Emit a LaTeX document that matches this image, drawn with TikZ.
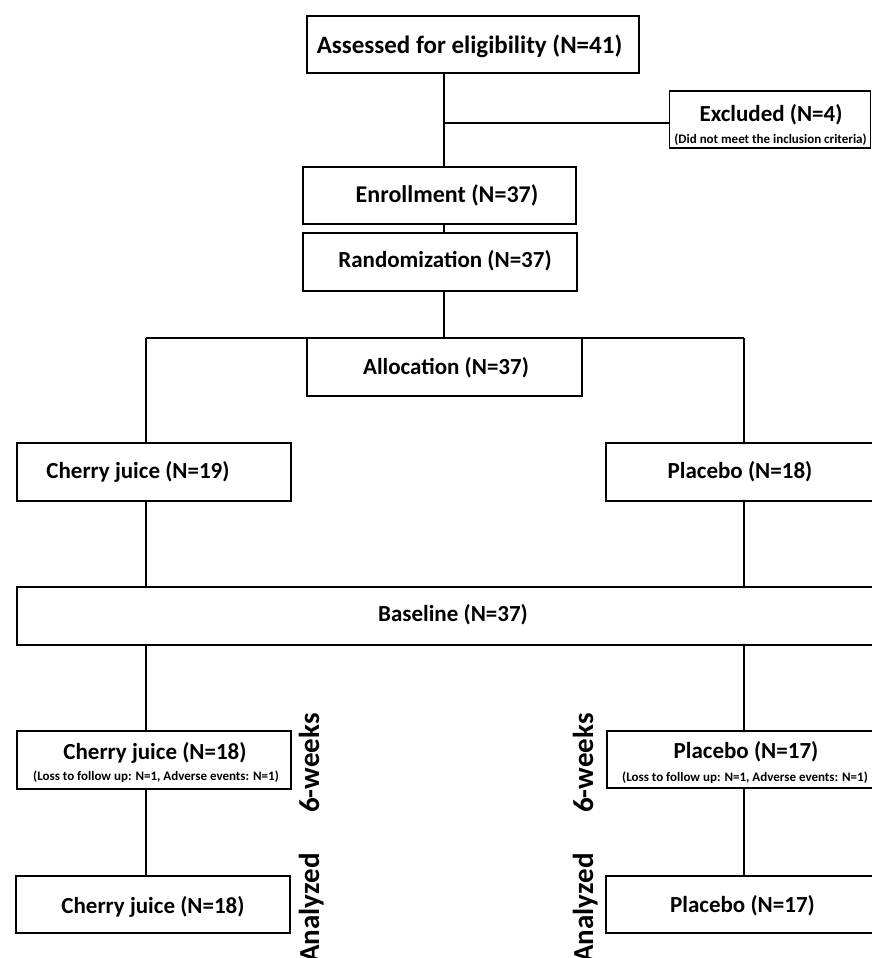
\documentclass[tikz,border=0pt]{standalone}
\usepackage{fontspec}
\setmainfont{Carlito}
\begin{document}
\begin{tikzpicture}[x=1pt,y=-1pt,
  box/.style={draw, line width=1.2pt, inner sep=0pt},
  conn/.style={line width=1.1pt},
  ttl/.style={anchor=base, inner sep=0pt, font=\fontsize{23}{27}\selectfont\bfseries},
  bigttl/.style={anchor=base, inner sep=0pt, font=\fontsize{25}{29}\selectfont\bfseries},
  subt/.style={anchor=base, inner sep=0pt, font=\fontsize{13}{15}\selectfont\bfseries},
  side/.style={anchor=base, rotate=90, inner sep=0pt, font=\fontsize{29}{33}\selectfont\bfseries}]
\useasboundingbox (0,0) rectangle (871,958);

% boxes
\node[box, minimum width=332pt, minimum height=57pt] (ass) at (473,44.5) {};
\node[box, minimum width=201pt, minimum height=57pt] (exc) at (770,119.5) {};
\node[box, minimum width=273pt, minimum height=57pt] (enr) at (439.5,195.5) {};
\node[box, minimum width=274pt, minimum height=58pt] (rnd) at (440,262) {};
\node[box, minimum width=275pt, minimum height=58pt] (alloc) at (444.5,367) {};
\node[box, minimum width=274pt, minimum height=58pt] (cja) at (154,472) {};
\node[box, minimum width=268pt, minimum height=58pt] (pla) at (740,472) {};
\node[box, minimum width=857pt, minimum height=58pt] (base) at (445.5,616) {};
\node[box, minimum width=274pt, minimum height=58pt] (cjb) at (154,760) {};
\node[box, minimum width=267pt, minimum height=57pt] (plb) at (740.5,759.5) {};
\node[box, minimum width=274pt, minimum height=57pt] (cjc) at (153,904.5) {};
\node[box, minimum width=268pt, minimum height=57pt] (plc) at (740,904.5) {};

% texts
\node[bigttl] (tass) at (469.5,53) {Assessed for eligibility (N=41)};
\node[ttl] (texc) at (771,121) {Excluded (N=4)};
\node[subt] (sexc) at (770.5,143) {(Did not meet the inclusion criteria)};
\node[ttl, font=\fontsize{24}{28}\selectfont\bfseries] (tenr) at (447,202) {Enrollment (N=37)};
\node[ttl] (trnd) at (445,267) {Randomization (N=37)};
\node[ttl] (talloc) at (446,374) {Allocation (N=37)};
\node[ttl] (tcja) at (138,478) {Cherry juice (N=19)};
\node[ttl] (tpla) at (740,478) {Placebo (N=18)};
\node[ttl] (tbase) at (453,621) {Baseline (N=37)};
\node[ttl] (tcjb) at (155,759) {Cherry juice (N=18)};
\node[subt] (scjb) at (156,780) {(Loss to follow up: N=1, Adverse events: N=1)};
\node[ttl] (tplb) at (746,758) {Placebo (N=17)};
\node[subt] (splb) at (745,781) {(Loss to follow up: N=1, Adverse events: N=1)};
\node[ttl] (tcjc) at (153,913) {Cherry juice (N=18)};
\node[ttl] (tplc) at (742.5,912) {Placebo (N=17)};

% side labels
\node[side] (wkl) at (319,763) {6-weeks};
\node[side] (wkr) at (593,763) {6-weeks};
\node[side] (anl) at (319,908) {Analyzed};
\node[side] (anr) at (593,908) {Analyzed};

% connectors
\coordinate (j1) at (444,123);
\coordinate (L) at (146,338);
\coordinate (R) at (744,338);
\draw[conn] (j1 |- ass.south) -- (j1 |- enr.north);
\draw[conn] (j1) -- (j1 -| exc.west);
\draw[conn] (j1 |- enr.south) -- (j1 |- rnd.north);
\draw[conn] (j1 |- rnd.south) -- (j1 |- alloc.north);
\draw[conn] (L) -- (R);
\draw[conn] (L) -- (L |- cja.north);
\draw[conn] (R) -- (R |- pla.north);
\draw[conn] (L |- cja.south) -- (L |- base.north);
\draw[conn] (R |- pla.south) -- (R |- base.north);
\draw[conn] (L |- base.south) -- (L |- cjb.north);
\draw[conn] (R |- base.south) -- (R |- plb.north);
\draw[conn] (L |- cjb.south) -- (L |- cjc.north);
\draw[conn] (R |- plb.south) -- (R |- plc.north);
\end{tikzpicture}
\end{document}
